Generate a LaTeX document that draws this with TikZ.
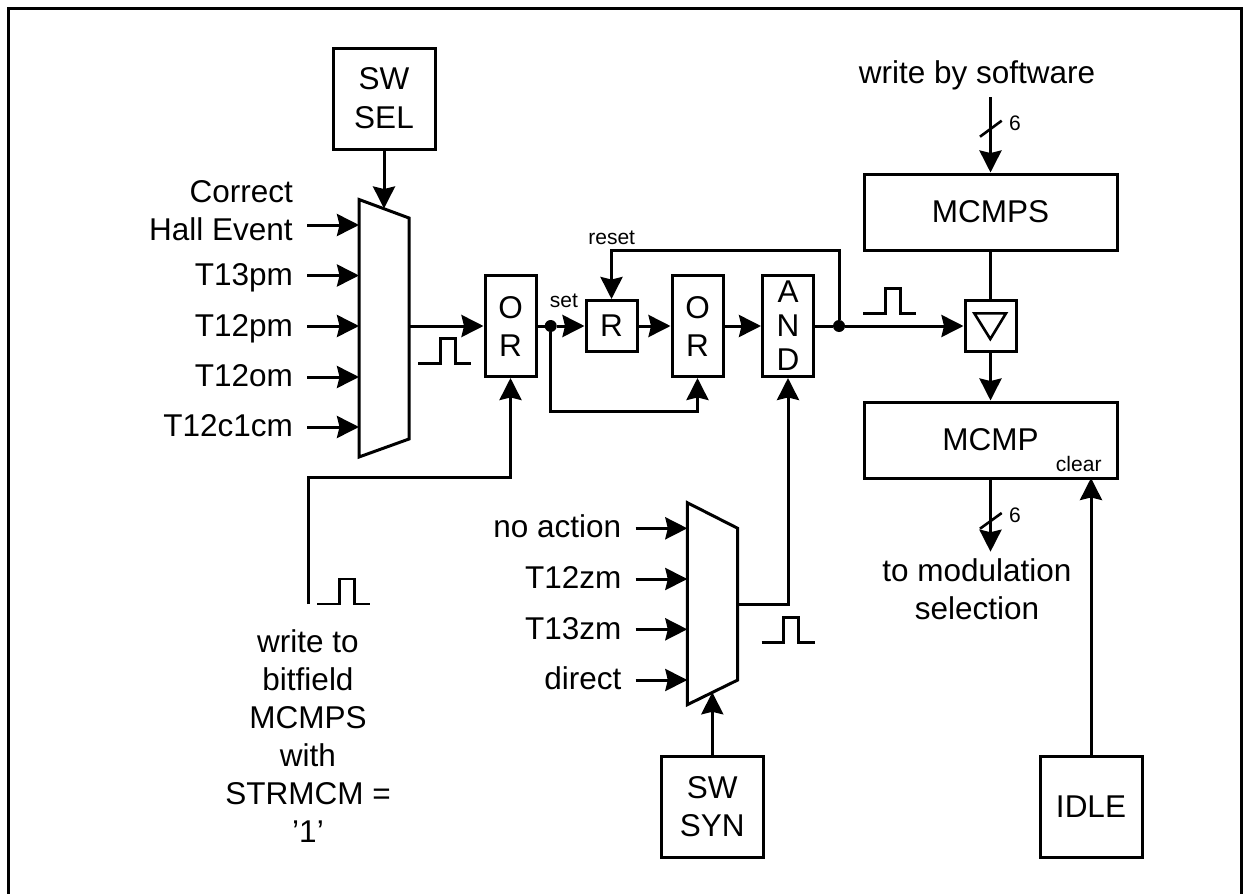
\documentclass[tikz,border=0pt]{standalone}
\usepackage{fontspec}
\setmainfont{Liberation Sans}
\usetikzlibrary{arrows.meta}

\begin{document}
\begin{tikzpicture}[
  x=1pt, y=-1pt,
  every node/.style={font=\fontsize{31.5}{38}\selectfont, align=center, inner sep=0pt},
  blockbox/.style={draw, line width=3pt, anchor=center},
  arrow/.style={-{Stealth[length=22pt, width=22pt, inset=2.5pt]}, line width=3pt},
  thinline/.style={line width=2.6pt},
  wire/.style={line width=3pt},
  dotmark/.style={circle, fill=black, minimum size=12pt},
  inlabel/.style={anchor=base east, align=right},
  smalllabel/.style={anchor=base, font=\fontsize{21}{25}\selectfont},
  pics/pulsemark/.style={code={\draw[thinline] (0,0) -- ++(22,0) -- ++(0,-25) -- ++(15,0) -- ++(0,25) -- ++(16,0);}}
]
  \useasboundingbox (0,0) rectangle (1243,894);
  \draw[wire] (8,894) -- (8,8) -- (1241,8) -- (1241,894);

  % selectors
  \draw[wire] (359,199.5) -- (409,218) -- (409,439) -- (359,457) -- cycle;
  \draw[wire] (687.3,502.7) -- (737.7,528.3) -- (737.7,680) -- (687.3,704.7) -- cycle;
  \coordinate (seltop) at (384,208.5);
  \coordinate (selout) at (409,326);
  \coordinate (synbot) at (712.3,692.3);
  \coordinate (synout) at (737.7,604);

  % blocks
  \node[blockbox, minimum width=102pt, minimum height=101pt] (swsel) at (384,98.5) {SW\\[1pt]SEL};
  \node[blockbox, minimum width=51pt, minimum height=101pt] (ora)   at (510.5,326) {O\\R};
  \node[blockbox, minimum width=51pt, minimum height=51pt]  (rst)   at (611.5,326) {R};
  \node[blockbox, minimum width=51pt, minimum height=101pt] (orb)   at (697.5,326) {O\\R};
  \node[blockbox, minimum width=51pt, minimum height=101pt, font=\fontsize{31.5}{34}\selectfont] (andg) at (788,326) {A\\N\\D};
  \node[blockbox, minimum width=51pt, minimum height=51pt]  (shad)  at (990.5,326) {};
  \node[blockbox, minimum width=253pt, minimum height=76pt] (mcmps) at (990.5,212) {MCMPS};
  \node[blockbox, minimum width=253pt, minimum height=76pt] (mcmp)  at (990.5,440) {};
  \node[anchor=base] (mcmptxt) at (990.5,450) {MCMP};
  \node[blockbox, minimum width=102pt, minimum height=101pt] (swsyn) at (712.3,806.5) {SW\\SYN};
  \node[blockbox, minimum width=102pt, minimum height=101pt] (idle)  at (1091,806.5) {IDLE};
  \draw[thinline] (974.3,313.3) -- (1006,313.3) -- (990.3,339) -- cycle;

  % inputs of first selector
  \node[inlabel] (corr) at (293,240.7) {Correct\\Hall Event};
  \node[inlabel] (t13p) at (293,285.5) {T13pm};
  \node[inlabel] (t12p) at (293,336) {T12pm};
  \node[inlabel] (t12o) at (293,386.7) {T12om};
  \node[inlabel] (t12c) at (293,436.7) {T12c1cm};
  \foreach \ypos in {225,275.5,326,377,427}
    \draw[arrow] (307,\ypos) -- (359,\ypos);

  % inputs of second selector
  \node[inlabel] (noact) at (621.5,537.5) {no action};
  \node[inlabel] (t12z)  at (621.5,588) {T12zm};
  \node[inlabel] (t13z)  at (621.5,639) {T13zm};
  \node[inlabel] (drct)  at (621.5,689.5) {direct};
  \foreach \ypos in {528.3,579,629.3,680}
    \draw[arrow] (635.7,\ypos) -- (687.3,\ypos);

  % other texts
  \node (wsoft) at (977,75) {write by software};
  \node (tomod) at (977,589) {to modulation\\selection};
  \node (wbit)  at (308,736.5) {write to\\bitfield\\MCMPS\\with\\STRMCM =\\’1’};
  \node[smalllabel] (setl) at (564,307.7) {set};
  \node[smalllabel] (rstl) at (611.7,244) {reset};
  \node[smalllabel, anchor=base east] (clr) at (1101.7,471.7) {clear};
  \node[smalllabel] (sixa) at (1015,130) {6};
  \node[smalllabel] (sixb) at (1015,522.3) {6};

  % dots
  \node[dotmark] (dota) at (550.7,326) {};
  \node[dotmark] (dotb) at (839,326) {};
  \coordinate (topin) at (990.5,97);
  \coordinate (wstart) at (308,604);
  \coordinate (sixout) at (990.5,551.7);
  \coordinate (clrin) at (1091,478);

  % connectors
  \draw[arrow] (swsel) -- (seltop);
  \draw[arrow] (selout) -- (ora);
  \draw[arrow] (wstart) |- (510.5,477.7) -- (ora);
  \draw[wire] (ora) -- (dota);
  \draw[arrow] (dota) -- (rst);
  \draw[arrow] (rst) -- (orb);
  \draw[arrow] (orb) -- (andg);
  \draw[arrow] (dota) |- (697.5,411.7) -- (orb);
  \draw[wire] (andg) -- (dotb);
  \draw[arrow] (dotb) -- (shad);
  \draw[arrow] (dotb) |- (611.5,250) -- (rst);
  \draw[arrow] (synout) -| (andg);
  \draw[arrow] (swsyn) -- (synbot);
  \draw[arrow] (topin) -- (mcmps);
  \draw[wire] (mcmps) -- (shad);
  \draw[arrow] (shad) -- (mcmp);
  \draw[arrow] (mcmp) -- (sixout);
  \draw[arrow] (idle) -- (clrin);

  % bus marks
  \draw[thinline] (980,136.7) -- (1001.7,120.7);
  \draw[thinline] (980,528.7) -- (1001.7,513);

  % pulses
  \pic at (418.3,363.3) {pulsemark};
  \pic at (317.3,604) {pulsemark};
  \pic at (863.3,313.3) {pulsemark};
  \pic at (761.7,642.3) {pulsemark};
\end{tikzpicture}
\end{document}
